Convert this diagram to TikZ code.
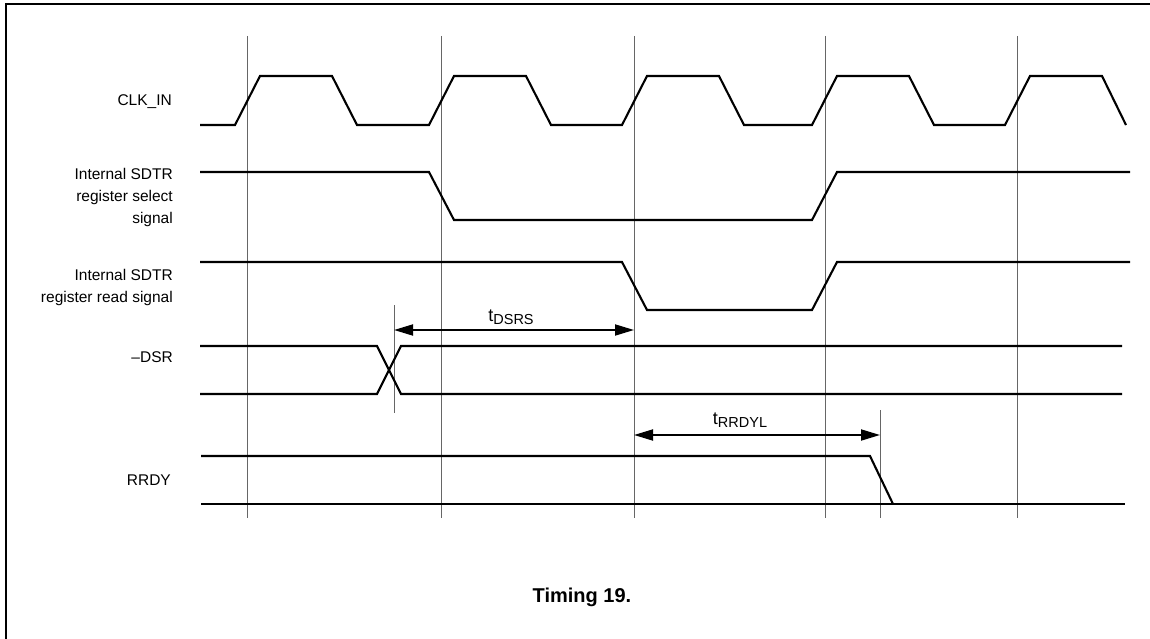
\documentclass[tikz,border=0pt]{standalone}
\usepackage{fontspec}
\setmainfont{Liberation Sans}
\usetikzlibrary{arrows.meta}
\tikzset{
  sig/.style={line width=2.1pt, line join=miter},
  grid/.style={line width=1pt, draw=black!60},
  dim/.style={line width=1.8pt, {Triangle[length=19pt,width=11pt]}-{Triangle[length=19pt,width=11pt]}},
  lbl/.style={font=\fontsize{15.5}{22}\selectfont, align=right, inner sep=0pt},
  tlbl/.style={font=\fontsize{18}{20}\selectfont, inner sep=0pt},
  frame/.style={line width=2.4pt},
}
\newcommand{\subsc}[1]{\raisebox{-3pt}{\fontsize{14.5}{16}\selectfont #1}}
\begin{document}
\begin{tikzpicture}[x=1pt,y=-1pt]
\useasboundingbox (0,0) rectangle (1150,639);
% frame (top and left edges)
\draw[frame] (6,639) -- (6,4) -- (1150,4);
% grid lines
\foreach \g in {247,441,634,825,1017}{
  \draw[grid] (\g,36) -- (\g,518);
}
\draw[grid] (394,305) -- (394,413);
\draw[grid] (880,410) -- (880,518);
% labels
\node[lbl, anchor=base east] (lclk) at (172,106) {CLK\_IN};
\node[lbl, anchor=east] (lsel) at (173,197) {Internal SDTR\\register select\\signal};
\node[lbl, anchor=east] (lread) at (173,287) {Internal SDTR\\register read signal};
\node[lbl, anchor=base east] (ldsr) at (173,362) {--DSR};
\node[lbl, anchor=base east] (lrrdy) at (171,485) {RRDY};
% CLK_IN
\draw[sig] (200,125) -- (235,125) -- (260,76) -- (332,76) -- (357,125)
  -- (429,125) -- (454,76) -- (526,76) -- (551,125)
  -- (622,125) -- (647,76) -- (719,76) -- (744,125)
  -- (812,125) -- (837,76) -- (909,76) -- (934,125)
  -- (1005,125) -- (1030,76) -- (1102,76) -- (1126,125);
% register select
\draw[sig] (200,172) -- (429,172) -- (454,220) -- (812,220) -- (837,172) -- (1130,172);
% register read
\draw[sig] (200,262) -- (622,262) -- (647,310) -- (812,310) -- (837,262) -- (1130,262);
% DSR
\draw[sig] (200,346) -- (377,346) -- (401,394) -- (1122,394);
\draw[sig] (200,394) -- (377,394) -- (401,346) -- (1122,346);
% RRDY
\draw[sig] (201,456) -- (870,456) -- (893,504);
\draw[sig] (201,504) -- (1125,504);
% dimension arrows
\coordinate (a1) at (394,330);
\coordinate (b1) at (634,330);
\coordinate (a2) at (634,435);
\coordinate (b2) at (880,435);
\draw[dim] (a1) -- (b1);
\draw[dim] (a2) -- (b2);
\node[tlbl, anchor=base] (tdsrs) at (511,321) {t\subsc{DSRS}};
\node[tlbl, anchor=base] (trrdyl) at (740,424) {t\subsc{RRDYL}};
% caption
\node[font=\fontsize{20}{24}\selectfont\bfseries, inner sep=0pt] (cap) at (582,597) {Timing 19.};
\end{tikzpicture}
\end{document}
